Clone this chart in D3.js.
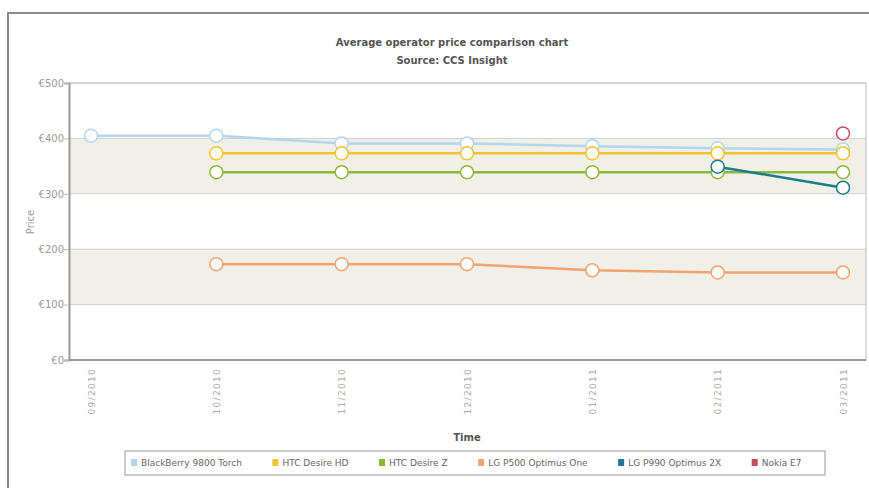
<!DOCTYPE html>
<html>
<head>
<meta charset="utf-8">
<script src="https://cdn.jsdelivr.net/npm/d3@7"></script>
<style>
  body { margin: 0; background: #fff; }
  svg { display: block; font-family: "DejaVu Sans", Verdana, sans-serif; }
</style>
</head>
<body>
<div id="chart"></div>
<script>
const months = ["09/2010", "10/2010", "11/2010", "12/2010", "01/2011", "02/2011", "03/2011"];
const seriesNames = ["BlackBerry 9800 Torch", "HTC Desire HD", "HTC Desire Z", "LG P500 Optimus One", "LG P990 Optimus 2X", "Nokia E7"];
const seriesColors = ["#b5d5ec", "#f1c232", "#8cb83a", "#f5a36e", "#1c7b8a", "#c2505c"];
const blackberry = [405, 405, 391, 391, 386, 382, 380];
const htcDesireHD = [null, 373, 373, 373, 373, 373, 373];
const htcDesireZ = [null, 339, 339, 339, 339, 339, 339];
const lgP500 = [null, 173, 173, 173, 162, 158, 158];
const lgP990 = [null, null, null, null, null, 349, 311];
const nokiaE7 = [null, null, null, null, null, null, 409];
const yTicks = [0, 100, 200, 300, 400, 500];

const allSeries = [blackberry, htcDesireHD, htcDesireZ, lgP500, lgP990, nokiaE7];

const width = 869, height = 488;
const plot = { left: 69, right: 866, top: 83, bottom: 360 };

const svg = d3.select("#chart").append("svg")
  .attr("width", width)
  .attr("height", height);

// outer frame (only left and top edges visible)
svg.append("path")
  .attr("d", `M8,${height} L8,13 L${width},13`)
  .attr("fill", "none")
  .attr("stroke", "#8a8a8a")
  .attr("stroke-width", 2);

// titles
svg.append("text")
  .attr("x", 452).attr("y", 46)
  .attr("text-anchor", "middle")
  .attr("font-size", 10).attr("font-weight", "bold")
  .attr("fill", "#555")
  .text("Average operator price comparison chart");
svg.append("text")
  .attr("x", 452).attr("y", 64)
  .attr("text-anchor", "middle")
  .attr("font-size", 10).attr("font-weight", "bold")
  .attr("fill", "#555")
  .text("Source: CCS Insight");

const x = d3.scalePoint().domain(months).range([91, 843]);
const y = d3.scaleLinear().domain([0, 500]).range([plot.bottom, plot.top]);

// alternating bands
[[300, 400], [100, 200]].forEach(b => {
  svg.append("rect")
    .attr("x", plot.left)
    .attr("y", y(b[1]))
    .attr("width", plot.right - plot.left)
    .attr("height", y(b[0]) - y(b[1]))
    .attr("fill", "#f0f0e9");
});

// grid lines
yTicks.forEach(t => {
  svg.append("line")
    .attr("x1", plot.left).attr("x2", plot.right)
    .attr("y1", y(t)).attr("y2", y(t))
    .attr("stroke", t === 500 ? "#aaa" : "#cfcfcf")
    .attr("stroke-width", 1);
});

// plot frame right edge
svg.append("line")
  .attr("x1", plot.right).attr("x2", plot.right)
  .attr("y1", plot.top).attr("y2", plot.bottom)
  .attr("stroke", "#bbb");

// axes
const yAxis = svg.append("g")
  .attr("transform", `translate(${plot.left},0)`)
  .call(d3.axisLeft(y).tickValues(yTicks).tickSize(5).tickFormat(d => "€" + d));
yAxis.select(".domain").attr("stroke", "#999").attr("stroke-width", 2);
yAxis.selectAll(".tick line").attr("stroke", "#bbb");
yAxis.selectAll(".tick text").attr("fill", "#999").attr("font-size", 10)
  .attr("font-family", "DejaVu Sans, sans-serif").attr("x", -5);

const xAxis = svg.append("g")
  .attr("transform", `translate(0,${plot.bottom})`)
  .call(d3.axisBottom(x).tickSize(0));
xAxis.select(".domain").attr("stroke", "#999").attr("stroke-width", 2)
  .attr("d", `M${plot.left},0H${plot.right}`);
xAxis.selectAll(".tick text")
  .attr("fill", "#aaa")
  .attr("font-size", 9)
  .attr("font-family", "DejaVu Sans, sans-serif")
  .attr("letter-spacing", 1.3)
  .attr("text-anchor", "end")
  .attr("transform", "rotate(-90)")
  .attr("x", -8).attr("y", 0).attr("dy", "0.35em");

// axis titles
svg.append("text")
  .attr("transform", "translate(34,222) rotate(-90)")
  .attr("text-anchor", "middle")
  .attr("font-size", 10).attr("fill", "#999")
  .text("Price");
svg.append("text")
  .attr("x", 467).attr("y", 441)
  .attr("text-anchor", "middle")
  .attr("font-size", 10).attr("font-weight", "bold")
  .attr("fill", "#555")
  .text("Time");

// lines
const line = d3.line()
  .defined(d => d != null)
  .x((d, i) => x(months[i]))
  .y(d => y(d));

allSeries.forEach((s, k) => {
  svg.append("path")
    .datum(s)
    .attr("d", line)
    .attr("fill", "none")
    .attr("stroke", seriesColors[k])
    .attr("stroke-width", 2.5);
});

allSeries.forEach((s, k) => {
  svg.append("g").selectAll("circle")
    .data(s.map((v, i) => ({ v, i })).filter(d => d.v != null))
    .join("circle")
    .attr("cx", d => x(months[d.i]))
    .attr("cy", d => y(d.v))
    .attr("r", 6.5)
    .attr("fill", "#fff")
    .attr("stroke", seriesColors[k])
    .attr("stroke-width", 1.5);
});

// legend
svg.append("rect")
  .attr("x", 125).attr("y", 451)
  .attr("width", 700).attr("height", 24)
  .attr("fill", "#fff")
  .attr("stroke", "#999");

const legend = svg.append("g");
let lx = 131;
seriesNames.forEach((name, k) => {
  const g = legend.append("g").attr("transform", `translate(${lx},0)`);
  g.append("rect")
    .attr("x", 0).attr("y", 459)
    .attr("width", 6).attr("height", 7)
    .attr("fill", seriesColors[k]);
  const t = g.append("text")
    .attr("x", 10).attr("y", 466)
    .attr("font-size", 9).attr("fill", "#666")
    .text(name);
  lx += 10 + t.node().getComputedTextLength() + 30.5;
});
</script>
</body>
</html>
